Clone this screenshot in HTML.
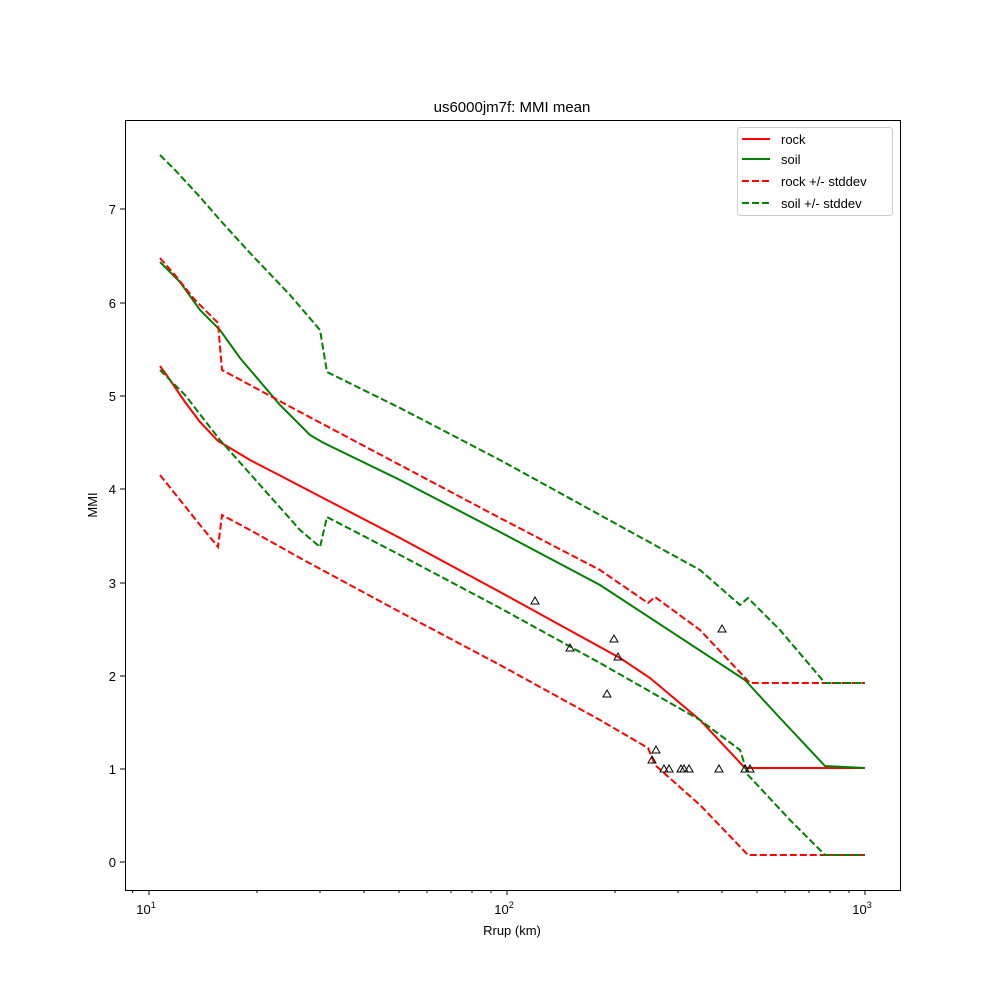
<!DOCTYPE html>
<html><head><meta charset="utf-8"><style>body{margin:0;background:#fff}svg{display:block;font-family:"Liberation Sans","DejaVu Sans",sans-serif}</style></head><body>
<svg width="1000" height="1000" viewBox="0 0 1000 1000">
<rect width="1000" height="1000" fill="#fff"/>
<text x="512" y="112" font-size="15" text-anchor="middle">us6000jm7f: MMI mean</text>
<g fill="none" stroke-width="2">
<polyline stroke="red" points="160,366 170,380 185,402 200,422 218,441 230,448 250,460 277,474 400,538 500,592 620,658 650,678 700,720 745,768 865,768"/>
<polyline stroke="green" points="160,262 180,282 200,310 220,330 240,358 280,405 310,435 322,442 330,446 400,480 500,532 600,585 745,680 780,718 825,766 865,768"/>
<polyline stroke="red" stroke-dasharray="7,3" points="160,258 175,275 195,300 218,323 222,370 250,385 300,412 400,465 500,518 600,570 648,603 655,597 700,630 750,683 865,683"/>
<polyline stroke="red" stroke-dasharray="7,3" points="160,475 180,500 200,525 218,547 222,515 250,530 300,558 400,612 500,665 600,720 648,748 655,765 700,805 748,855 865,855"/>
<polyline stroke="green" stroke-dasharray="7,3" points="160,155 175,170 200,197 220,220 250,253 290,295 320,330 327,372 400,408 500,460 600,515 700,570 740,605 748,598 780,630 825,683 865,683"/>
<polyline stroke="green" stroke-dasharray="7,3" points="160,370 185,395 220,440 260,485 300,530 320,547 327,517 400,555 500,608 600,663 700,720 740,750 748,775 790,820 825,855 865,855"/>
</g>
<g fill="none" stroke="#000" stroke-width="1">
<path id="t" d="M535,597 l4,7 h-8 z"/>
<path d="M570,644 l4,7 h-8 z"/><path d="M614,635 l4,7 h-8 z"/><path d="M618,653 l4,7 h-8 z"/>
<path d="M607,690 l4,7 h-8 z"/><path d="M656,746 l4,7 h-8 z"/><path d="M652,756 l4,7 h-8 z"/>
<path d="M664,765 l4,7 h-8 z"/><path d="M669,765 l4,7 h-8 z"/><path d="M681,765 l4,7 h-8 z"/>
<path d="M684,765 l4,7 h-8 z"/><path d="M689,765 l4,7 h-8 z"/><path d="M719,765 l4,7 h-8 z"/>
<path d="M722,625 l4,7 h-8 z"/><path d="M745,765 l4,7 h-8 z"/><path d="M750,765 l4,7 h-8 z"/>
</g>
<rect x="125.5" y="120.5" width="775" height="770" fill="none" stroke="#000"/>
<g stroke="#000">
<path d="M149,890v5M507,890v5M865,890v5M125,862h-5M125,769h-5M125,676h-5M125,583h-5M125,489h-5M125,396h-5M125,303h-5M125,209h-5"/>
<path d="M132.6,890v3M257,890v3M320,890v3M364,890v3M399,890v3M427,890v3M451,890v3M472,890v3M491,890v3M615,890v3M678,890v3M722,890v3M757,890v3M785,890v3M809,890v3M830,890v3M849,890v3"/>
</g>
<g font-size="13" text-anchor="end">
<text x="116" y="867">0</text><text x="116" y="774">1</text><text x="116" y="681">2</text><text x="116" y="588">3</text><text x="116" y="494">4</text><text x="116" y="401">5</text><text x="116" y="308">6</text><text x="116" y="214">7</text>
</g>
<g font-size="13" text-anchor="middle">
<text x="146" y="914">10<tspan font-size="9" dy="-6">1</tspan></text>
<text x="504" y="914">10<tspan font-size="9" dy="-6">2</tspan></text>
<text x="862" y="914">10<tspan font-size="9" dy="-6">3</tspan></text>
<text x="512" y="935">Rrup (km)</text>
<text transform="translate(97,505) rotate(-90)">MMI</text>
</g>
<rect x="737.5" y="127.5" width="155" height="88" rx="3" fill="#fff" stroke="#ccc"/>
<g stroke-width="2">
<line x1="742" y1="139" x2="770" y2="139" stroke="red"/>
<line x1="742" y1="159" x2="770" y2="159" stroke="green"/>
<line x1="742" y1="181" x2="770" y2="181" stroke="red" stroke-dasharray="7,3"/>
<line x1="742" y1="203" x2="770" y2="203" stroke="green" stroke-dasharray="7,3"/>
</g>
<g font-size="13">
<text x="781" y="144">rock</text><text x="781" y="164">soil</text><text x="781" y="186">rock +/- stddev</text><text x="781" y="208">soil +/- stddev</text>
</g>
</svg>
</body></html>
